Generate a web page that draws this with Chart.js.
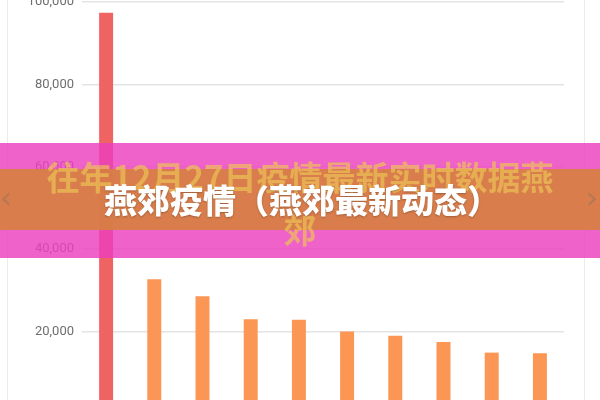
<!DOCTYPE html>
<html>
<head>
<meta charset="utf-8">
<script src="https://cdn.jsdelivr.net/npm/chart.js@4"></script>
<style>
  html, body { margin: 0; padding: 0; }
  body { width: 600px; height: 400px; overflow: hidden; position: relative; background: #fff; font-family: Roboto, "Noto Sans", sans-serif; }
  .edge { position: absolute; top: 0; bottom: 0; width: 1px; background: #ececec; }
  #wrap { position: absolute; left: 0; top: -30px; width: 600px; height: 480px; }
  .band { position: absolute; left: 0; width: 600px; }
  #pink { top: 143px; height: 115px; background: rgba(236, 64, 190, 0.82); }
  #orange { top: 169px; height: 61px; background: rgba(214, 128, 66, 0.93); }
  #sub { position: absolute; left: 42px; top: 150px; width: 516px; text-align: center;
         font: bold 33px/53px "Noto Sans CJK SC", sans-serif; color: rgba(236, 194, 86, 0.7); }
  #title { position: absolute; left: 0; top: 176px; width: 604px; text-align: center;
           font: 900 33px/46px "Noto Sans CJK SC", sans-serif; color: #fff;
           text-shadow: 0 1px 2px rgba(0,0,0,0.25); }
  .arrow { position: absolute; top: 183px; font: 30px/30px "DejaVu Sans", sans-serif; color: rgba(140, 110, 90, 0.45); }
</style>
</head>
<body>
<div class="edge" style="left:7px"></div>
<div class="edge" style="left:584px"></div>
<div id="wrap"><canvas id="chart"></canvas></div>
<div class="band" id="pink"></div>
<div class="band" id="orange"></div>
<div id="sub">往年12月27日疫情最新实时数据燕郊</div>
<div id="title">燕郊疫情（燕郊最新动态）</div>
<div class="arrow" style="left:0px">‹</div>
<div class="arrow" style="left:586px">›</div>
<script>
const categories = ['1', '2', '3', '4', '5', '6', '7', '8', '9', '10'];
const values = [97400, 32700, 28600, 23000, 22900, 20050, 19000, 17500, 14900, 14750];
const yTicks = [0, 20000, 40000, 60000, 80000, 100000];

new Chart(document.getElementById('chart'), {
  type: 'bar',
  data: {
    labels: categories,
    datasets: [{
      data: values,
      backgroundColor: (ctx) => ctx.dataIndex === 0 ? '#ef6363' : '#fb9654',
      barPercentage: 0.29,
      categoryPercentage: 1,
    }],
  },
  options: {
    responsive: true,
    maintainAspectRatio: false,
    animation: false,
    layout: { padding: { left: 0, right: 36, top: 32, bottom: 36 } },
    plugins: { legend: { display: false }, tooltip: { enabled: false } },
    scales: {
      x: { display: false },
      y: {
        min: yTicks[0],
        max: yTicks[yTicks.length - 1],
        afterBuildTicks: (scale) => { scale.ticks = yTicks.map((v) => ({ value: v })); },
        afterFit: (scale) => { scale.width = 82; },
        border: { display: false },
        grid: { color: '#e4e4e4', lineWidth: 1.5, drawTicks: false },
        ticks: {
          padding: 8,
          color: '#6e6e6e',
          font: { family: 'Roboto', size: 13 },
          callback: (v) => v.toLocaleString('en-US'),
        },
      },
    },
  },
});
</script>
</body>
</html>
